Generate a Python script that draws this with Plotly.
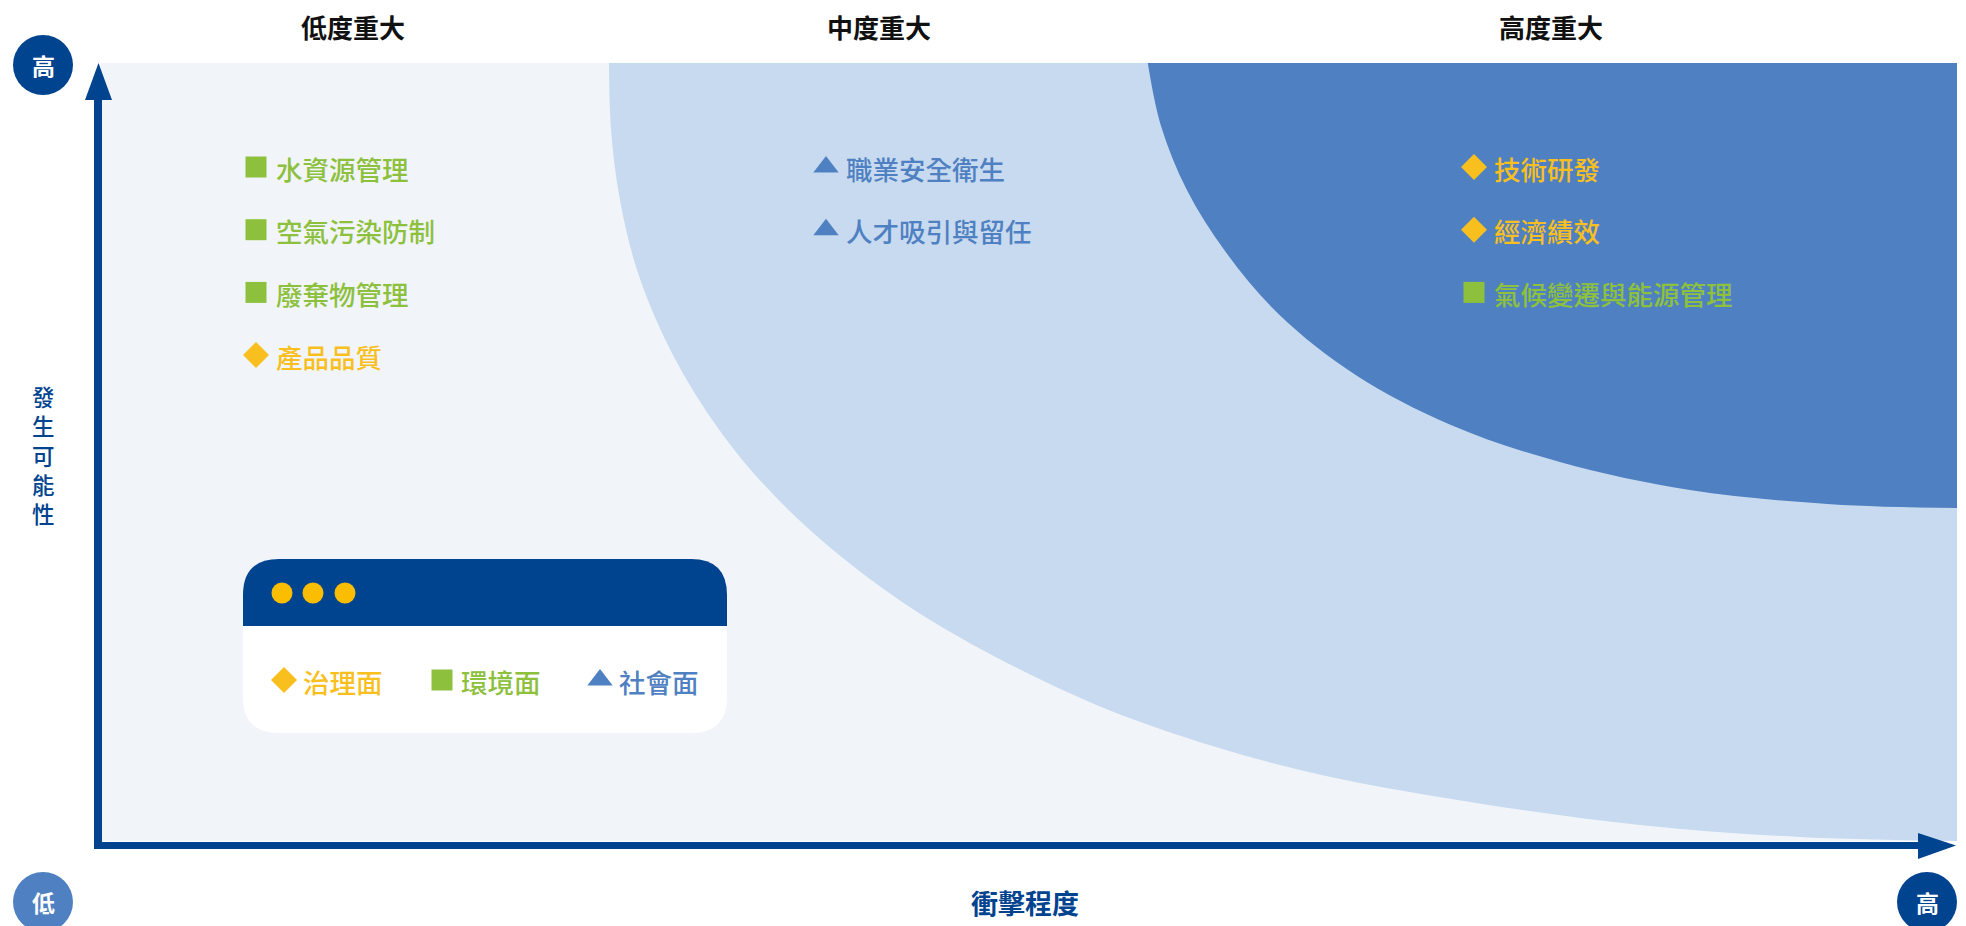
import plotly.graph_objects as go

# ---------------- data ----------------
levels = ["低度重大", "中度重大", "高度重大"]
categories = ["治理面", "環境面", "社會面"]

topics_low = ["水資源管理", "空氣污染防制", "廢棄物管理", "產品品質"]
cats_low = ["環境面", "環境面", "環境面", "治理面"]
topics_mid = ["職業安全衛生", "人才吸引與留任"]
cats_mid = ["社會面", "社會面"]
topics_high = ["技術研發", "經濟績效", "氣候變遷與能源管理"]
cats_high = ["治理面", "治理面", "環境面"]

# zone boundaries (impact %, likelihood %)
mid_zone_x = [27.37, 27.48, 27.96, 28.88, 30.39, 32.54, 35.45, 39.39, 44.61,
              51.72, 57.06, 64.60, 73.76, 82.92, 91.54, 100]
mid_zone_y = [100, 91.4, 82.4, 73.4, 64.5, 55.5, 46.5, 37.5, 28.5,
              19.5, 14.4, 9.13, 5.01, 2.06, 0.51, 0]
high_zone_x = [56.4, 57.1, 58.5, 60.6, 63.5, 67.6, 72.7, 78.6, 85.6, 93.2, 100]
high_zone_y = [100, 92.0, 83.7, 75.7, 67.6, 59.9, 53.5, 48.7, 45.1, 43.3, 42.8]

y_axis_title = "發生可能性"
x_axis_title = "衝擊程度"
low_label, high_label = "低", "高"

# ---------------- layout constants ----------------
VW, VH = 1966, 926          # viewport
OFF = 8                     # default html body margin
L, R, T, B = 101, 1957, 63, 841  # plot area in viewport px

NAVY = "#00438F"
MID = "#4F81C2"
LIGHT = "#C8DAEF"
BG = "#F1F5FA"
GREEN = "#8DC03D"
YELLOW = "#F8BF1E"
DOT = "#FABD00"
FONT = "Noto Sans CJK TC"

cat_style = {
    "治理面": dict(symbol="diamond", color=YELLOW, size=20),
    "環境面": dict(symbol="square", color=GREEN, size=21),
    "社會面": dict(symbol="triangle-up", color=MID, size=22),
}


def dx(px):
    return (px - L) / (R - L) * 100


def dy(py):
    return (B - py) / (B - T) * 100


def fx(px):
    return (px - L) / (R - L)


def fy(py):
    return (B - py) / (B - T)


fig = go.Figure()

# zones
fig.add_trace(go.Scatter(x=[mid_zone_x[0], 100], y=[100, 100], mode="lines",
                         line=dict(width=0), hoverinfo="skip", showlegend=False))
fig.add_trace(go.Scatter(x=mid_zone_x, y=mid_zone_y, mode="lines",
                         line=dict(width=0, shape="spline", smoothing=1.0),
                         fill="tonexty", fillcolor=LIGHT, hoverinfo="skip", showlegend=False))
fig.add_trace(go.Scatter(x=[high_zone_x[0], 100], y=[100, 100], mode="lines",
                         line=dict(width=0), hoverinfo="skip", showlegend=False))
fig.add_trace(go.Scatter(x=high_zone_x, y=high_zone_y, mode="lines",
                         line=dict(width=0, shape="spline", smoothing=1.0),
                         fill="tonexty", fillcolor=MID, hoverinfo="skip", showlegend=False))

annotations = []
shapes = []

# topic items
col_px = [256, 826, 1474]
row0_py, row_step = 167, 62.7
columns = [(topics_low, cats_low), (topics_mid, cats_mid), (topics_high, cats_high)]
for ci, (tops, cats) in enumerate(columns):
    for ri, (t, c) in enumerate(zip(tops, cats)):
        st = cat_style[c]
        py = row0_py + ri * row_step
        fig.add_trace(go.Scatter(
            x=[dx(col_px[ci])], y=[dy(py)], mode="markers",
            marker=dict(symbol=st["symbol"], color=st["color"], size=st["size"], line=dict(width=0)),
            hoverinfo="skip", showlegend=False))
        annotations.append(dict(
            x=dx(col_px[ci] + 18), y=dy(py + 1), xref="x", yref="y", text=t, showarrow=False,
            xanchor="left", yanchor="middle",
            font=dict(family=FONT, size=26.5, color=st["color"], weight=500)))

# level headers
head_px = [353, 879, 1551]
for lv, px in zip(levels, head_px):
    annotations.append(dict(x=fx(px), y=fy(26), xref="paper", yref="paper", text=lv,
                            showarrow=False, xanchor="center", yanchor="middle",
                            font=dict(family=FONT, size=26, color="#111111", weight="bold")))


# rounded rect path in paper coords
def rrect_path(x0, y0, x1, y1, r, top=True, bottom=True):
    def P(px, py):
        return f"{fx(px):.6f},{fy(py):.6f}"
    rt = r if top else 0
    rb = r if bottom else 0
    p = f"M {P(x0 + rt, y0)} L {P(x1 - rt, y0)} "
    if rt:
        p += f"Q {P(x1, y0)} {P(x1, y0 + rt)} "
    p += f"L {P(x1, y1 - rb)} "
    if rb:
        p += f"Q {P(x1, y1)} {P(x1 - rb, y1)} "
    p += f"L {P(x0 + rb, y1)} "
    if rb:
        p += f"Q {P(x0, y1)} {P(x0, y1 - rb)} "
    p += f"L {P(x0, y0 + rt)} "
    if rt:
        p += f"Q {P(x0, y0)} {P(x0 + rt, y0)} "
    return p + "Z"


# legend box
bx0, by0, bx1, by1, br = 243, 559, 727, 733, 36
shapes.append(dict(type="path", xref="paper", yref="paper", layer="below",
                   path=rrect_path(bx0, by0, bx1, by1, br), fillcolor="white", line=dict(width=0)))
shapes.append(dict(type="path", xref="paper", yref="paper", layer="below",
                   path=rrect_path(bx0, by0, bx1, 626, br, top=True, bottom=False),
                   fillcolor=NAVY, line=dict(width=0)))
for cxp in [282, 313, 345]:
    shapes.append(dict(type="circle", xref="paper", yref="paper", layer="below",
                       x0=fx(cxp - 10.5), x1=fx(cxp + 10.5), y0=fy(593 + 10.5), y1=fy(593 - 10.5),
                       fillcolor=DOT, line=dict(width=0)))
leg_px = [284, 442, 600]
leg_py = 680
for c, px in zip(categories, leg_px):
    st = cat_style[c]
    fig.add_trace(go.Scatter(
        x=[dx(px)], y=[dy(leg_py)], mode="markers",
        marker=dict(symbol=st["symbol"], color=st["color"], size=st["size"], line=dict(width=0)),
        hoverinfo="skip", showlegend=False))
    annotations.append(dict(x=dx(px + 17), y=dy(leg_py + 1), xref="x", yref="y", text=c,
                            showarrow=False, xanchor="left", yanchor="middle",
                            font=dict(family=FONT, size=26.5, color=st["color"], weight=500)))

# axes arrows
shapes.append(dict(type="rect", xref="paper", yref="paper", layer="above",
                   x0=fx(94), x1=fx(102), y0=fy(849), y1=fy(99), fillcolor=NAVY, line=dict(width=0)))
shapes.append(dict(type="path", xref="paper", yref="paper", layer="above",
                   path=f"M {fx(85)},{fy(100)} L {fx(112)},{fy(100)} L {fx(98.5)},{fy(63)} Z",
                   fillcolor=NAVY, line=dict(width=0)))
shapes.append(dict(type="rect", xref="paper", yref="paper", layer="above",
                   x0=fx(94), x1=fx(1919), y0=fy(849), y1=fy(842), fillcolor=NAVY, line=dict(width=0)))
shapes.append(dict(type="path", xref="paper", yref="paper", layer="above",
                   path=f"M {fx(1918)},{fy(833)} L {fx(1918)},{fy(859)} L {fx(1956)},{fy(845.5)} Z",
                   fillcolor=NAVY, line=dict(width=0)))

# end circles
for (cxp, cyp, col, txt) in [(43, 65, NAVY, high_label), (43, 902, MID, low_label), (1927, 902, NAVY, high_label)]:
    shapes.append(dict(type="circle", xref="paper", yref="paper", layer="above",
                       x0=fx(cxp - 30), x1=fx(cxp + 30), y0=fy(cyp + 30), y1=fy(cyp - 30),
                       fillcolor=col, line=dict(width=0)))
    annotations.append(dict(x=fx(cxp), y=fy(cyp), xref="paper", yref="paper", text=txt,
                            showarrow=False, xanchor="center", yanchor="middle",
                            font=dict(family=FONT, size=23, color="white", weight="bold")))

# axis titles
annotations.append(dict(x=fx(43), y=fy(454), xref="paper", yref="paper",
                        text="<br>".join(list(y_axis_title)),
                        showarrow=False, xanchor="center", yanchor="middle",
                        font=dict(family=FONT, size=22.5, color=NAVY, weight=500)))
annotations.append(dict(x=fx(1025), y=fy(902), xref="paper", yref="paper", text=x_axis_title,
                        showarrow=False, xanchor="center", yanchor="middle",
                        font=dict(family=FONT, size=27, color=NAVY, weight="bold")))

fig.update_layout(
    width=VW - OFF, height=VH - OFF,
    margin=dict(l=L - OFF, r=VW - R, t=T - OFF, b=VH - B, pad=0),
    paper_bgcolor="white", plot_bgcolor=BG,
    xaxis=dict(range=[0, 100], visible=False, fixedrange=True),
    yaxis=dict(range=[0, 100], visible=False, fixedrange=True),
    showlegend=False, hovermode=False,
    shapes=shapes, annotations=annotations,
    font=dict(family=FONT),
)

fig.write_html("out.html", config={"displayModeBar": False})
